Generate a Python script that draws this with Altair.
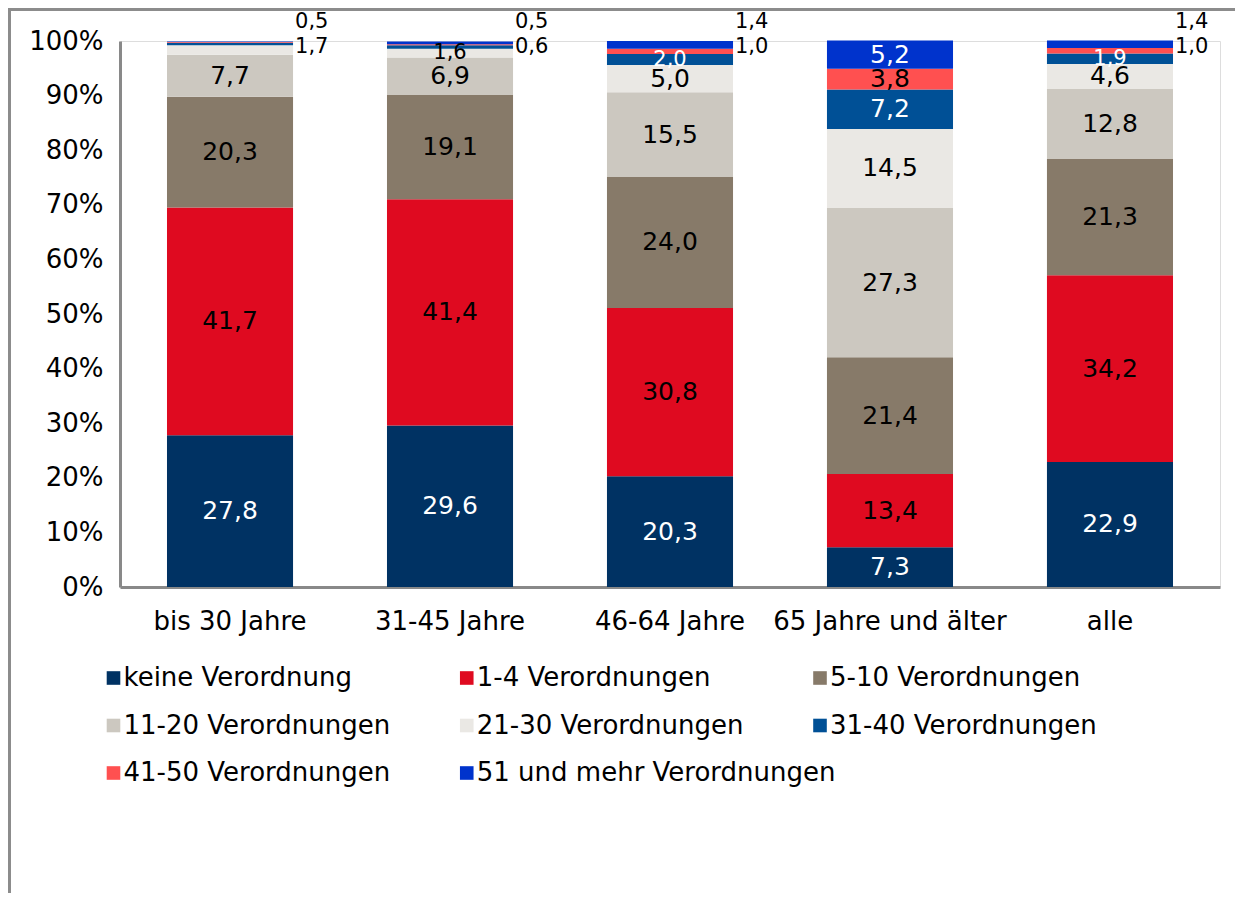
import altair as alt
import pandas as pd

GROUPS = ["bis 30 Jahre", "31-45 Jahre", "46-64 Jahre", "65 Jahre und älter", "alle"]
CATEGORIES = ["keine Verordnung", "1-4 Verordnungen", "5-10 Verordnungen",
              "11-20 Verordnungen", "21-30 Verordnungen", "31-40 Verordnungen",
              "41-50 Verordnungen", "51 und mehr Verordnungen"]
COLORS = ["#003263", "#DF0A20", "#877A69", "#CCC8C0", "#EAE8E4", "#005096",
          "#FF5050", "#0033CC"]

keine = [27.8, 29.6, 20.3, 7.3, 22.9]
v1_4 = [41.7, 41.4, 30.8, 13.4, 34.2]
v5_10 = [20.3, 19.1, 24.0, 21.4, 21.3]
v11_20 = [7.7, 6.9, 15.5, 27.3, 12.8]
v21_30 = [1.7, 1.6, 5.0, 14.5, 4.6]
v31_40 = [0.5, 0.6, 2.0, 7.2, 1.9]
v41_50 = [0.1, 0.2, 1.0, 3.8, 1.0]
v51 = [0.1, 0.5, 1.4, 5.2, 1.4]
SERIES = [keine, v1_4, v5_10, v11_20, v21_30, v31_40, v41_50, v51]

# labels written beside the bar (top row / second row)
OUTSIDE_TOP = [("bis 30 Jahre", "31-40 Verordnungen"),
               ("31-45 Jahre", "51 und mehr Verordnungen"),
               ("46-64 Jahre", "51 und mehr Verordnungen"),
               ("alle", "51 und mehr Verordnungen")]
OUTSIDE_SECOND = [("bis 30 Jahre", "21-30 Verordnungen"),
                  ("31-45 Jahre", "31-40 Verordnungen"),
                  ("46-64 Jahre", "41-50 Verordnungen"),
                  ("alle", "41-50 Verordnungen")]
WHITE_LABELS = ["keine Verordnung", "31-40 Verordnungen", "51 und mehr Verordnungen"]

rows = []
for ci, (cat, vals) in enumerate(zip(CATEGORIES, SERIES)):
    for g, v in zip(GROUPS, vals):
        if (g, cat) in OUTSIDE_TOP:
            pos = "top"
        elif (g, cat) in OUTSIDE_SECOND:
            pos = "second"
        elif v >= 1.5:
            pos = "in"
        else:
            pos = "none"
        rows.append({"group": g, "cat": cat, "idx": ci, "value": v, "pos": pos})
df = pd.DataFrame(rows)

leg = pd.DataFrame({"cat": CATEGORIES,
                    "col": [i % 3 for i in range(len(CATEGORIES))],
                    "row": [i // 3 for i in range(len(CATEGORIES))]})

FONT = "DejaVu Sans"
AXIS_GRAY = "#898989"

xscale = alt.Scale(domain=GROUPS, paddingInner=0.427, paddingOuter=0.2136)
yscale = alt.Scale(domain=[0, 100], nice=False)
cscale = alt.Scale(domain=CATEGORIES, range=COLORS)

xaxis = alt.Axis(title=None, labelAngle=0, ticks=False, grid=False, labelLimit=0,
                 domainColor=AXIS_GRAY, domainWidth=3, labelFontSize=26,
                 labelFont=FONT, labelColor="black", labelPadding=21)
yaxis = alt.Axis(title=None, values=list(range(0, 101, 10)), ticks=False, grid=False,
                 labelExpr="datum.value + '%'", domainColor=AXIS_GRAY, domainWidth=3,
                 labelFontSize=26, labelFont=FONT, labelColor="black", labelPadding=17)

X = alt.X("group:N", sort=GROUPS, scale=xscale, axis=xaxis)

stacked = alt.Chart(df).transform_stack(
    stack="value", groupby=["group"], as_=["y0", "y1"],
    sort=[alt.SortField("idx", order="ascending")]
).transform_calculate(
    mid="(datum.y0 + datum.y1) / 2",
    label="replace(format(datum.value, '.1f'), '.', ',')"
)

bars = stacked.mark_bar().encode(
    x=X,
    y=alt.Y("y0:Q", scale=yscale, axis=yaxis),
    y2="y1:Q",
    color=alt.Color("cat:N", scale=cscale, legend=None),
)

white_test = "indexof(" + str(WHITE_LABELS) + ", datum.cat) >= 0"

inside = stacked.transform_filter("datum.pos == 'in'").mark_text(
    font=FONT, baseline="middle", align="center"
).encode(
    x=X,
    y=alt.Y("mid:Q", scale=yscale, axis=yaxis),
    text="label:N",
    color=alt.condition(white_test, alt.value("white"), alt.value("black")),
    size=alt.condition("datum.value < 2.5", alt.value(21), alt.value(25)),
)

top_lbl = stacked.transform_filter("datum.pos == 'top'").mark_text(
    font=FONT, baseline="middle", align="left", dx=65, dy=-19, fontSize=21, color="black"
).encode(
    x=X,
    y=alt.YDatum(100, type="quantitative", scale=yscale, axis=yaxis),
    text="label:N",
)

second_lbl = stacked.transform_filter("datum.pos == 'second'").mark_text(
    font=FONT, baseline="middle", align="left", dx=65, dy=6, fontSize=21, color="black"
).encode(
    x=X,
    y=alt.YDatum(100, type="quantitative", scale=yscale, axis=yaxis),
    text="label:N",
)

main = alt.layer(bars, inside, top_lbl, second_lbl)

legx = alt.X("col:Q", scale=alt.Scale(domain=[0, 2], range=[-6.5, 700]), axis=None)
legy = alt.Y("row:Q", scale=alt.Scale(domain=[0, 2], range=[637, 732]), axis=None)

leg_sym = alt.Chart(leg).mark_square(size=185, opacity=1).encode(
    x=legx, y=legy, color=alt.Color("cat:N", scale=cscale, legend=None)
)
leg_txt = alt.Chart(leg).mark_text(
    font=FONT, fontSize=26, align="left", baseline="middle", dx=10, color="black"
).encode(x=legx, y=legy, text="cat:N")

legend = alt.layer(leg_sym, leg_txt)

frame = alt.Chart(alt.Data(values=[{"a": 1}])).mark_rect(
    fillOpacity=0, stroke="#8c8c8c", strokeWidth=3
).encode(
    x=alt.value(-110.5), x2=alt.value(1400), y=alt.value(-31.5), y2=alt.value(1100)
)

chart = alt.layer(main, legend, frame).resolve_scale(
    x="independent", y="independent"
).properties(
    width=1100, height=546,
    padding={"left": 112, "top": 33, "right": 15, "bottom": 306},
    autosize=alt.AutoSizeParams(type="none"),
).configure_view(strokeWidth=0).configure(font=FONT)

chart.save("out.html", embed_options={"renderer": "svg", "actions": False})
